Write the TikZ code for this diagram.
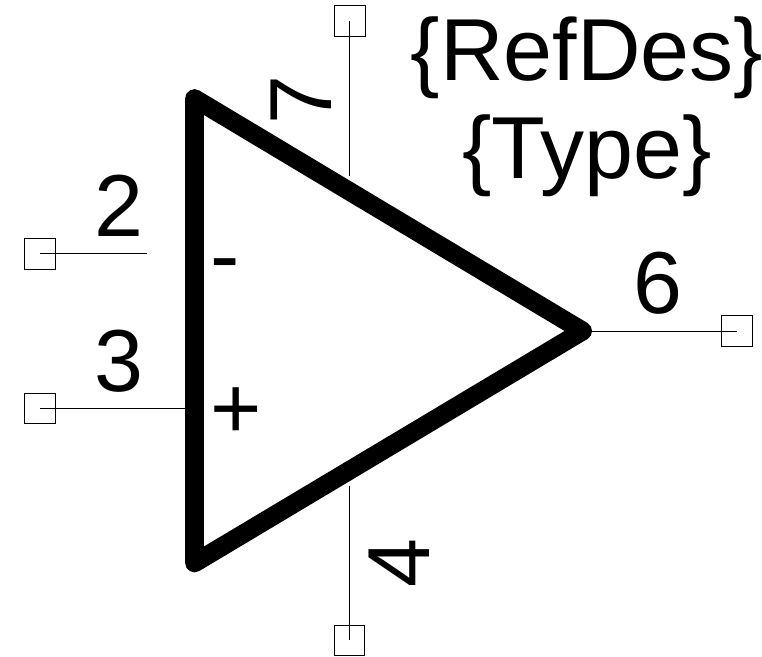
\documentclass[tikz,border=0pt]{standalone}
\usepackage{fontspec}
\setmainfont{Liberation Sans}
\tikzset{
 pinbox/.style={draw=black,line width=0.75pt,minimum size=23pt,inner sep=0pt,outer sep=0pt},
 pinline/.style={draw=black,line width=0.75pt},
 lbl/.style={inner sep=0pt,font=\fontsize{66}{66}\selectfont},
 big/.style={inner sep=0pt,align=center,font=\fontsize{66}{72}\selectfont},
}
\begin{document}
\begin{tikzpicture}[x=0.75pt,y=-0.75pt]
\useasboundingbox (0,0) rectangle (762,656);
\fill[white] (0,0) rectangle (762,656);
\node[pinbox] (p7) at (350,20.7) {};
\node[pinbox] (p4) at (349.5,640.4) {};
\node[pinbox] (p2) at (39.8,253.8) {};
\node[pinbox] (p3) at (39.8,408.5) {};
\node[pinbox] (p6) at (737,330.8) {};
\coordinate (e7) at (349.3,176);
\coordinate (e4) at (349.3,486);
\coordinate (e2) at (147,253.3);
\coordinate (e3) at (190,408.3);
\coordinate (e6) at (585,331.3);
\draw[pinline] (349.3,20.7) -- (e7);
\draw[pinline] (349.3,640.4) -- (e4);
\draw[pinline] (39.8,253.3) -- (e2);
\draw[pinline] (39.8,408.3) -- (e3);
\draw[pinline] (737,331.3) -- (e6);
\draw[line width=14pt,line join=round,line cap=round] (194.5,98.5) -- (582.7,331) -- (194.5,563) -- cycle;
\node[lbl] (n2) at (118.5,206) {2};
\node[lbl] (n3) at (118.5,361) {3};
\node[lbl] (n6) at (657.5,283) {6};
\node[lbl,rotate=90] (n7) at (301,100) {7};
\node[lbl,rotate=90] (n4) at (399,563) {4};
\node[lbl] (minus) at (225,272) {-};
\node[lbl] (plus) at (236.5,413) {+};
\node[big] (rd) at (587,58) {\{RefDes\}};
\node[big] (ty) at (587,156) {\{Type\}};
\end{tikzpicture}
\end{document}
